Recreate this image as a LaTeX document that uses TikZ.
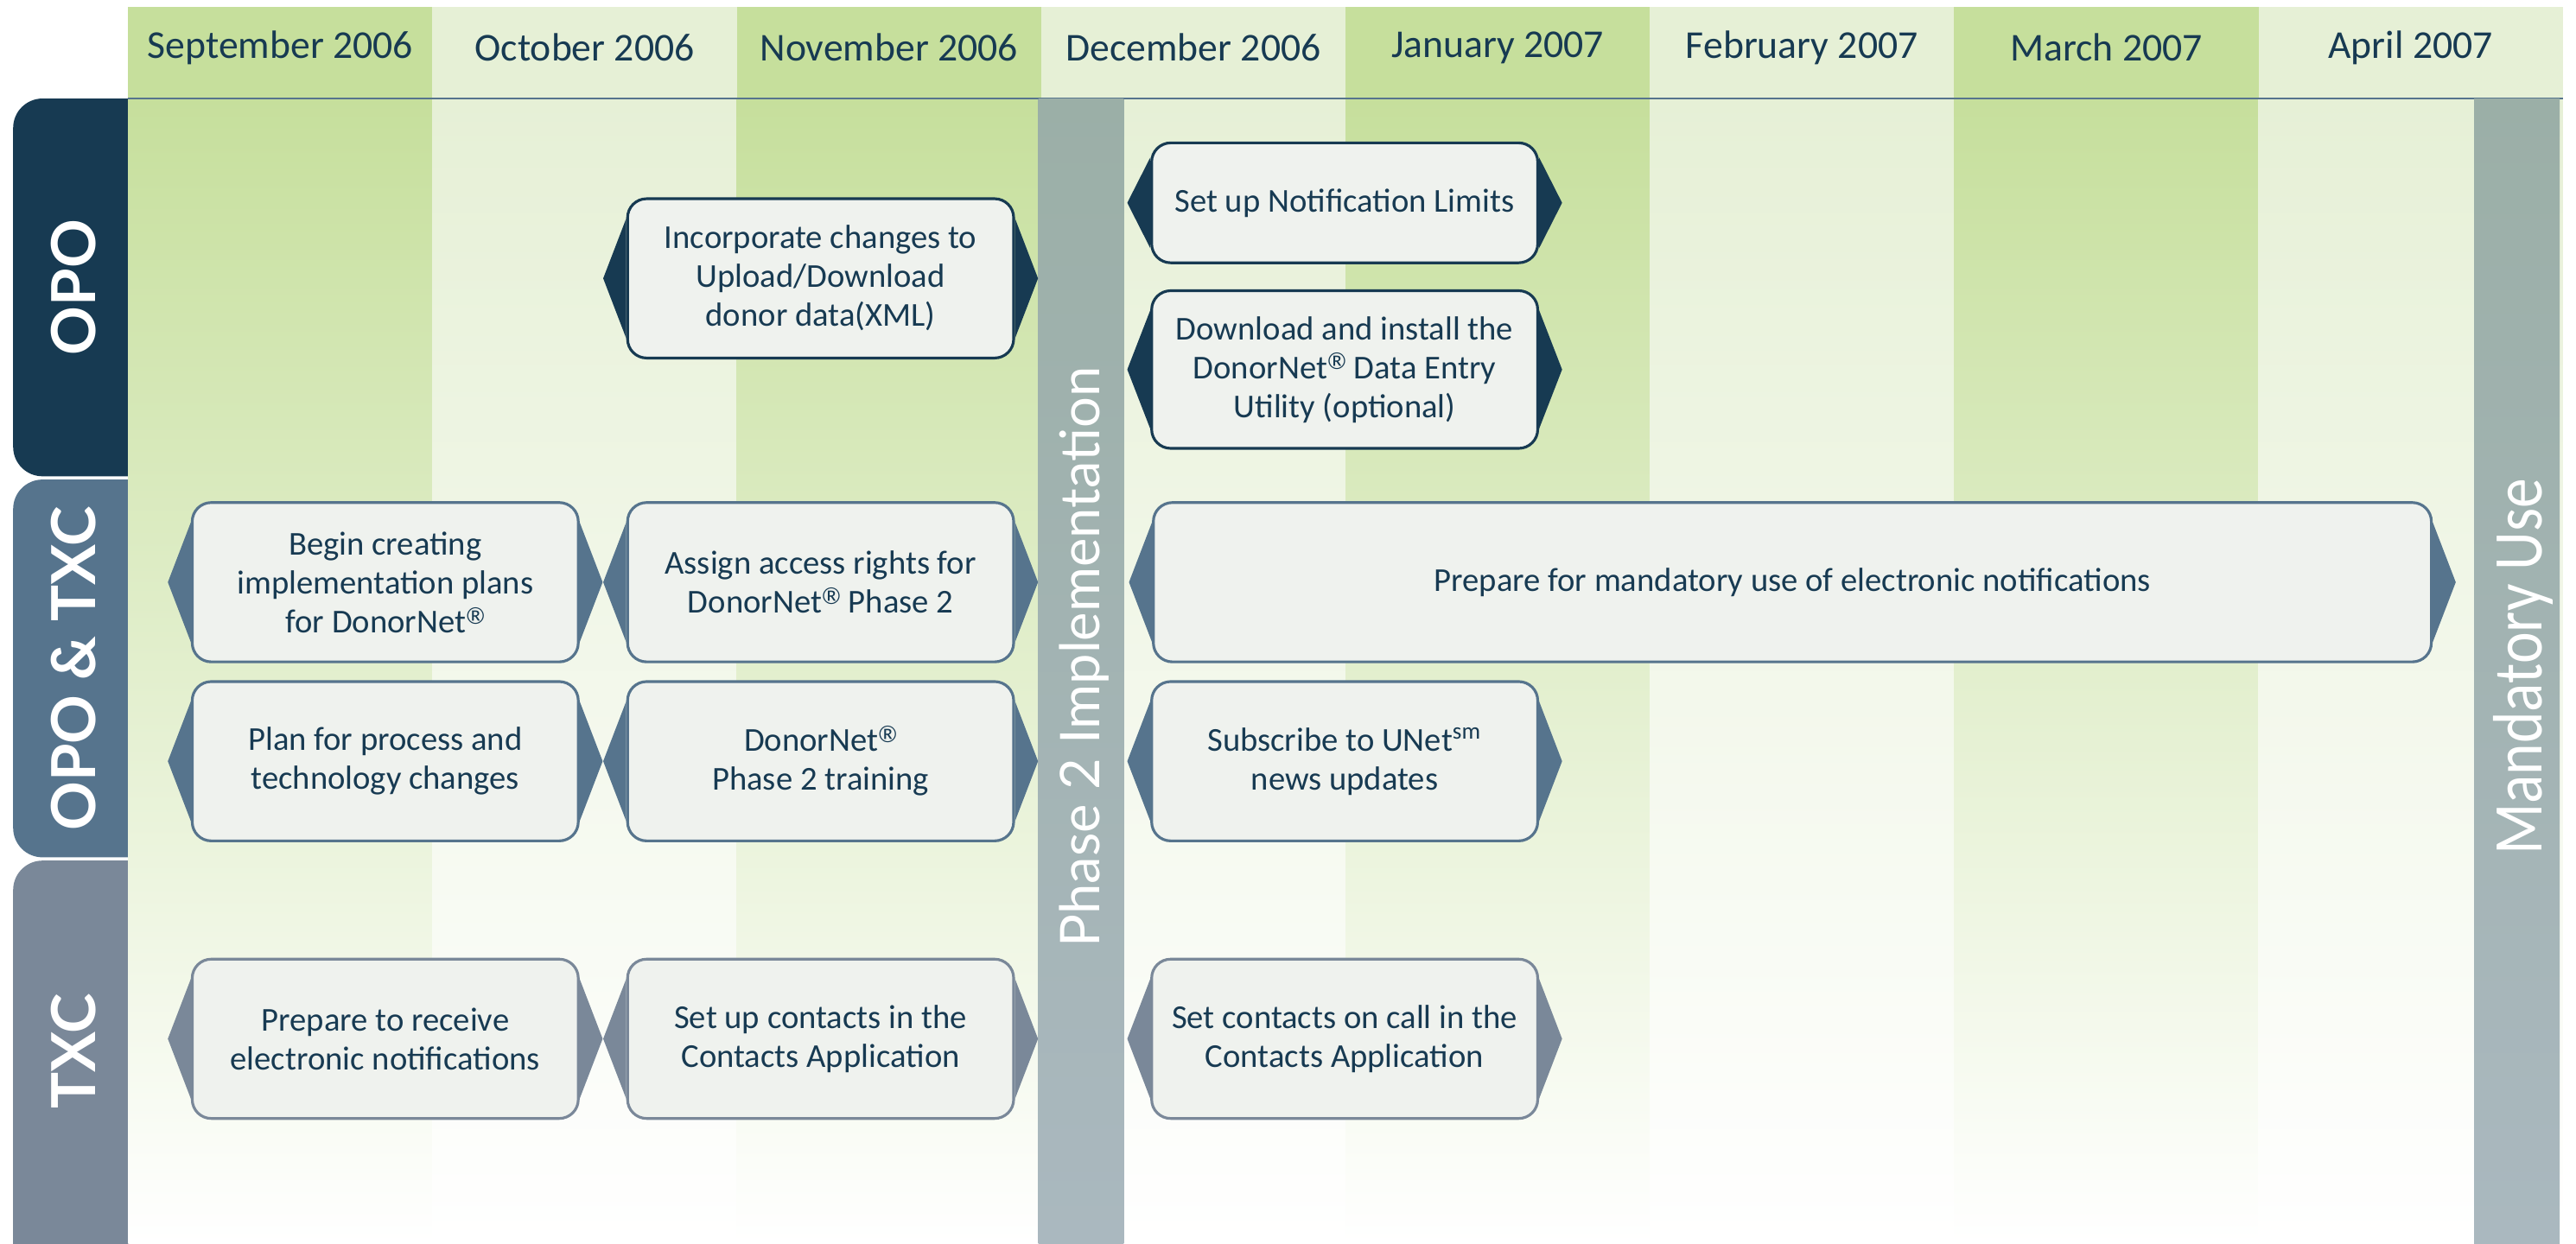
\documentclass[tikz,border=0pt]{standalone}
\usepackage{fontspec}
\setmainfont{Carlito}
\newfontfamily\tabfont{Lato}
\usetikzlibrary{calc}

\definecolor{navy}{RGB}{23,58,82}
\definecolor{steel}{RGB}{86,116,141}
\definecolor{slate}{RGB}{122,136,153}
\definecolor{boxfill}{RGB}{239,242,238}
\definecolor{greendark}{RGB}{198,223,156}
\definecolor{greenlight}{RGB}{230,240,214}
\definecolor{bartop}{RGB}{155,175,167}
\definecolor{barbottom}{RGB}{170,184,191}
\newcommand{\dnet}{DonorNet\raisebox{0.55ex}{\tabfont\fontsize{7.5}{8}\selectfont\textregistered}}

\begin{document}
\begin{tikzpicture}[
      % GLOBAL CFG
      x=0.019012cm, y=-0.019012cm,
      % Styles
      month/.style={% For the month headers
        text=navy,
        font=\fontsize{13}{15}\selectfont
      },
      task/.style={% For the tasks
        rectangle,
        rounded corners=2.2mm,
        draw=#1,
        fill=boxfill,
        line width=0.9pt,
        align=center,
        text=navy,
        minimum width=4.468cm,
        minimum height=1.844cm,
        font=\fontsize{11}{12.8}\selectfont
      },
      rowlabel/.style={% For the row tabs
        rotate=90,
        text=white,
        font=\tabfont\bfseries\fontsize{20}{22}\selectfont
      },
      bartext/.style={% For the two milestones
        rotate=90,
        text=white
      }
      ]
      \useasboundingbox (0,0) rectangle (1568,757);
      \clip (0,0) rectangle (1568,757);

      % Row tabs, their right side is hidden by the columns
      \fill [navy, rounded corners=3.4mm] (8,60) rectangle (110,290);
      \fill [steel, rounded corners=3.4mm] (8,292) rectangle (110,522);
      \fill [slate, rounded corners=3.4mm] (8,524) rectangle (110,800);

      % Month columns
      \foreach \i/\c/\m in {0/greendark/September 2006, 1/greenlight/October 2006,
          2/greendark/November 2006, 3/greenlight/December 2006,
          4/greendark/January 2007, 5/greenlight/February 2007,
          6/greendark/March 2007, 7/greenlight/April 2007}{
        \fill [\c] (78+185.25*\i,4) rectangle (78+185.25*\i+185.25,60);
        \shade [top color=\c, bottom color=white] (78+185.25*\i,60) rectangle (78+185.25*\i+185.25,757);
        \node [month] (month\i) at (78+185.25*\i+92.6,29) {\m};
      }
      \draw [steel, line width=0.8pt] (78,60) -- (1560,60);

      \node [rowlabel] (opo) at (45,175) {OPO};
      \node [rowlabel] (both) at (45,407) {OPO \& TXC};
      \node [rowlabel] (txc) at (45,640) {TXC};

      % Milestones
      \shade [top color=bartop, bottom color=barbottom] (632,60) rectangle (684,757);
      \shade [top color=bartop, bottom color=barbottom] (1506,60) rectangle (1558,757);
      \node [bartext, font=\tabfont\fontsize{18}{20}\selectfont] (phase) at (660,400) {Phase 2 Implementation};
      \node [bartext, font=\fontsize{23}{25}\selectfont] (mandatory) at (1536,406) {\scalebox{0.86}[1]{Mandatory Use}};

      % Tasks
      \node [task=navy] (incorp) at (499.5,169.5) {Incorporate changes to\\Upload/Download\\donor data(XML)};
      \node [task=navy, minimum height=1.388cm] (notif) at (818.5,123.5) {Set up Notification Limits};
      \node [task=navy, minimum height=1.825cm] (download) at (818.5,225) {Download and install the\\\dnet{} Data Entry\\Utility (optional)};

      \node [task=steel] (begin) at (234.5,354.5) {Begin creating\\implementation plans\\for \dnet};
      \node [task=steel] (assign) at (499.5,354.5) {Assign access rights for\\\dnet{} Phase 2};
      \node [task=steel, minimum width=14.79cm] (prepare) at (1091,354.5) {Prepare for mandatory use of electronic notifications};
      \node [task=steel] (plan) at (234.5,463.5) {Plan for process and\\technology changes};
      \node [task=steel] (training) at (499.5,463.5) {\dnet\\Phase 2 training};
      \node [task=steel] (subscribe) at (818.5,463.5) {Subscribe to UNet\textsuperscript{sm}\\news updates};

      \node [task=slate] (receive) at (234.5,632.5) {Prepare to receive\\electronic notifications};
      \node [task=slate] (contacts) at (499.5,632.5) {Set up contacts in the\\Contacts Application};
      \node [task=slate] (oncall) at (818.5,632.5) {Set contacts on call in the\\Contacts Application};

      % Pointers on both sides of each task
      \foreach \n/\c in {incorp/navy, notif/navy, download/navy, begin/steel,
          assign/steel, prepare/steel, plan/steel, training/steel,
          subscribe/steel, receive/slate, contacts/slate, oncall/slate}{
        \fill [\c] ($(\n.north west)!0.13!(\n.south west)$) -- ($(\n.west)+(-14,0)$)
          -- ($(\n.south west)!0.13!(\n.north west)$) -- cycle;
        \fill [\c] ($(\n.north east)!0.13!(\n.south east)$) -- ($(\n.east)+(14,0)$)
          -- ($(\n.south east)!0.13!(\n.north east)$) -- cycle;
      }

    \end{tikzpicture}
\end{document}
